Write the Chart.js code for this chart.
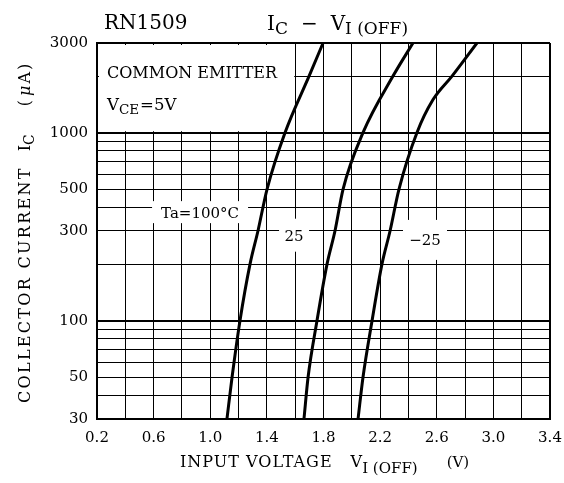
<!DOCTYPE html>
<html>
<head>
<meta charset="utf-8">
<script src="https://cdn.jsdelivr.net/npm/chart.js@4/dist/chart.umd.min.js"></script>
<style>
  html, body { margin: 0; padding: 0; background: #fff; }
  #wrap { width: 564px; height: 483px; position: relative; }
</style>
</head>
<body>
<div id="wrap"><canvas id="ic-chart"></canvas></div>
<script>

const xGrid = [0.2, 0.4, 0.6, 0.8, 1.0, 1.2, 1.4, 1.6, 1.8, 2.0, 2.2, 2.4, 2.6, 2.8, 3.0, 3.2, 3.4];
const xLabels = ['0.2', '0.6', '1.0', '1.4', '1.8', '2.2', '2.6', '3.0', '3.4'];
const yGrid = [30, 40, 50, 60, 70, 80, 90, 100, 200, 300, 400, 500, 600, 700, 800, 900, 1000, 2000, 3000];
const yLabels = [30, 50, 100, 300, 500, 1000, 3000];

// Ta = 100°C
const v100 = [1.118, 1.154, 1.210, 1.281, 1.337, 1.401, 1.528, 1.698, 1.797];
const i100 = [30, 50, 100, 200, 300, 500, 1000, 2000, 3000];
// Ta = 25°C
const v25 = [1.662, 1.691, 1.754, 1.825, 1.881, 1.938, 2.079, 2.291, 2.432];
const i25 = [30, 50, 100, 200, 300, 500, 1000, 2000, 3000];
// Ta = -25°C
const vm25 = [2.044, 2.079, 2.143, 2.213, 2.270, 2.333, 2.460, 2.574, 2.708, 2.884];
const im25 = [30, 50, 100, 200, 300, 500, 1000, 1500, 2000, 3000];

const SERIF = '"DejaVu Serif", "Liberation Serif", serif';

function pts(xs, ys) {
    return xs.map((x, k) => ({ x: x, y: ys[k] }));
}

function curve(xs, ys) {
    return {
        data: pts(xs, ys),
        borderColor: '#000',
        borderWidth: 3,
        pointRadius: 0,
        fill: false,
        cubicInterpolationMode: 'monotone'
    };
}

// draws pieces of text one after another (for subscripts)
function runs(ctx, x, y, parts) {
    let cx = x;
    parts.forEach(p => {
        ctx.font = (p.italic ? 'italic ' : '') + p.size + 'px ' + SERIF;
        ctx.letterSpacing = (p.ls || 0) + 'px';
        cx += p.gap || 0;
        ctx.fillText(p.t, cx, y + (p.dy || 0));
        cx += ctx.measureText(p.t).width;
    });
    ctx.letterSpacing = '0px';
}

function labelBox(chart, v, i, w, h, parts) {
    const ctx = chart.ctx;
    const x = chart.scales.x.getPixelForValue(v);
    const y = chart.scales.y.getPixelForValue(i);
    ctx.fillStyle = '#fff';
    ctx.fillRect(x - w / 2, y - h / 2, w, h);
    ctx.fillStyle = '#000';
    ctx.textBaseline = 'alphabetic';
    ctx.textAlign = 'left';
    let tw = 0;
    parts.forEach(p => {
        ctx.font = p.size + 'px ' + SERIF;
        tw += ctx.measureText(p.t).width + (p.gap || 0);
    });
    runs(ctx, x - tw / 2, y + 5.5, parts);
}

const annotations = {
    id: 'annotations',
    beforeDatasetsDraw(chart) {
        const ctx = chart.ctx;
        const xs = chart.scales.x, ys = chart.scales.y;
        ctx.save();
        // white legend box in the upper left corner
        const l = xs.getPixelForValue(0.2) + 2;
        const r = xs.getPixelForValue(1.6) - 1;
        const t = ys.getPixelForValue(3000) + 2;
        const b = ys.getPixelForValue(1000) - 1.5;
        ctx.fillStyle = '#fff';
        ctx.fillRect(l, t, r - l, b - t);
        ctx.fillStyle = '#000';
        ctx.textBaseline = 'alphabetic';
        ctx.textAlign = 'left';
        runs(ctx, 107, 78, [{ t: 'COMMON EMITTER', size: 16 }]);
        runs(ctx, 107, 110, [
            { t: 'V', size: 16.5 },
            { t: 'CE', size: 13.5, dy: 4 },
            { t: '=5V', size: 16.5, gap: 1 }
        ]);
        labelBox(chart, 0.928, 378, 96, 22, [{ t: 'Ta=100°C', size: 15 }]);
        labelBox(chart, 1.592, 285, 30, 33, [{ t: '25', size: 15 }]);
        labelBox(chart, 2.517, 269, 44, 40, [{ t: '−25', size: 15 }]);
        ctx.restore();
    },
    afterDraw(chart) {
        const ctx = chart.ctx;
        ctx.save();
        ctx.fillStyle = '#000';
        ctx.textBaseline = 'alphabetic';
        ctx.textAlign = 'left';
        // titles
        runs(ctx, 104, 29, [{ t: 'RN1509', size: 20 }]);
        runs(ctx, 267, 30, [
            { t: 'I', size: 20 },
            { t: 'C', size: 17, dy: 4 },
            { t: '−', size: 20, gap: 13 },
            { t: 'V', size: 20, gap: 13 },
            { t: 'I (OFF)', size: 17, dy: 4 }
        ]);
        // x axis title
        runs(ctx, 180, 467, [
            { t: 'INPUT VOLTAGE', size: 16, ls: 1 },
            { t: 'V', size: 16, gap: 18 },
            { t: 'I (OFF)', size: 15, dy: 6 },
            { t: '(V)', size: 15, gap: 29 }
        ]);
        // y axis title, rotated
        ctx.translate(30, 403);
        ctx.rotate(-Math.PI / 2);
        runs(ctx, 0, 0, [
            { t: 'COLLECTOR CURRENT', size: 16, ls: 2.3 },
            { t: 'I', size: 16, gap: 15 },
            { t: 'C', size: 14, dy: 4 },
            { t: '(', size: 16, gap: 28, ls: 4 },
            { t: 'μ', size: 16, italic: true, ls: 2 },
            { t: 'A)', size: 16, ls: 2 }
        ]);
        ctx.restore();
    }
};

const ctx = document.getElementById('ic-chart');

new Chart(ctx, {
    type: 'line',
    data: {
        datasets: [curve(v100, i100), curve(v25, i25), curve(vm25, im25)]
    },
    options: {
        responsive: true,
        maintainAspectRatio: false,
        animation: false,
        layout: { padding: { left: 0, top: 43, right: 14, bottom: 0 } },
        plugins: {
            legend: { display: false },
            tooltip: { enabled: false }
        },
        scales: {
            x: {
                type: 'linear',
                min: 0.2,
                max: 3.4,
                afterBuildTicks: s => { s.ticks = xGrid.map(v => ({ value: v })); },
                afterFit: s => {
                    s.height = 64;
                    s.paddingLeft = 0;
                    s.paddingRight = 0;
                },
                ticks: {
                    autoSkip: false,
                    maxRotation: 0,
                    padding: 10,
                    color: '#000',
                    font: { family: SERIF, size: 15 },
                    callback: v => {
                        const s = Number(v).toFixed(1);
                        return xLabels.includes(s) ? s : '';
                    }
                },
                grid: {
                    drawTicks: false,
                    color: '#000',
                    lineWidth: c => (c.tick && c.tick.value === 3.4 ? 2 : 1)
                },
                border: { display: true, color: '#000', width: 2 }
            },
            y: {
                type: 'logarithmic',
                min: 30,
                max: 3000,
                afterBuildTicks: s => { s.ticks = yGrid.map(v => ({ value: v })); },
                afterFit: s => { s.width = 97; },
                ticks: {
                    autoSkip: false,
                    padding: 9,
                    color: '#000',
                    font: { family: SERIF, size: 15 },
                    callback: v => (yLabels.includes(Number(v)) ? String(v) : '')
                },
                grid: {
                    drawTicks: false,
                    color: '#000',
                    lineWidth: c => {
                        const v = c.tick ? c.tick.value : 0;
                        return (v === 100 || v === 1000 || v === 3000) ? 2 : 1;
                    }
                },
                border: { display: true, color: '#000', width: 2 }
            }
        }
    },
    plugins: [annotations]
});
</script>
</body>
</html>
